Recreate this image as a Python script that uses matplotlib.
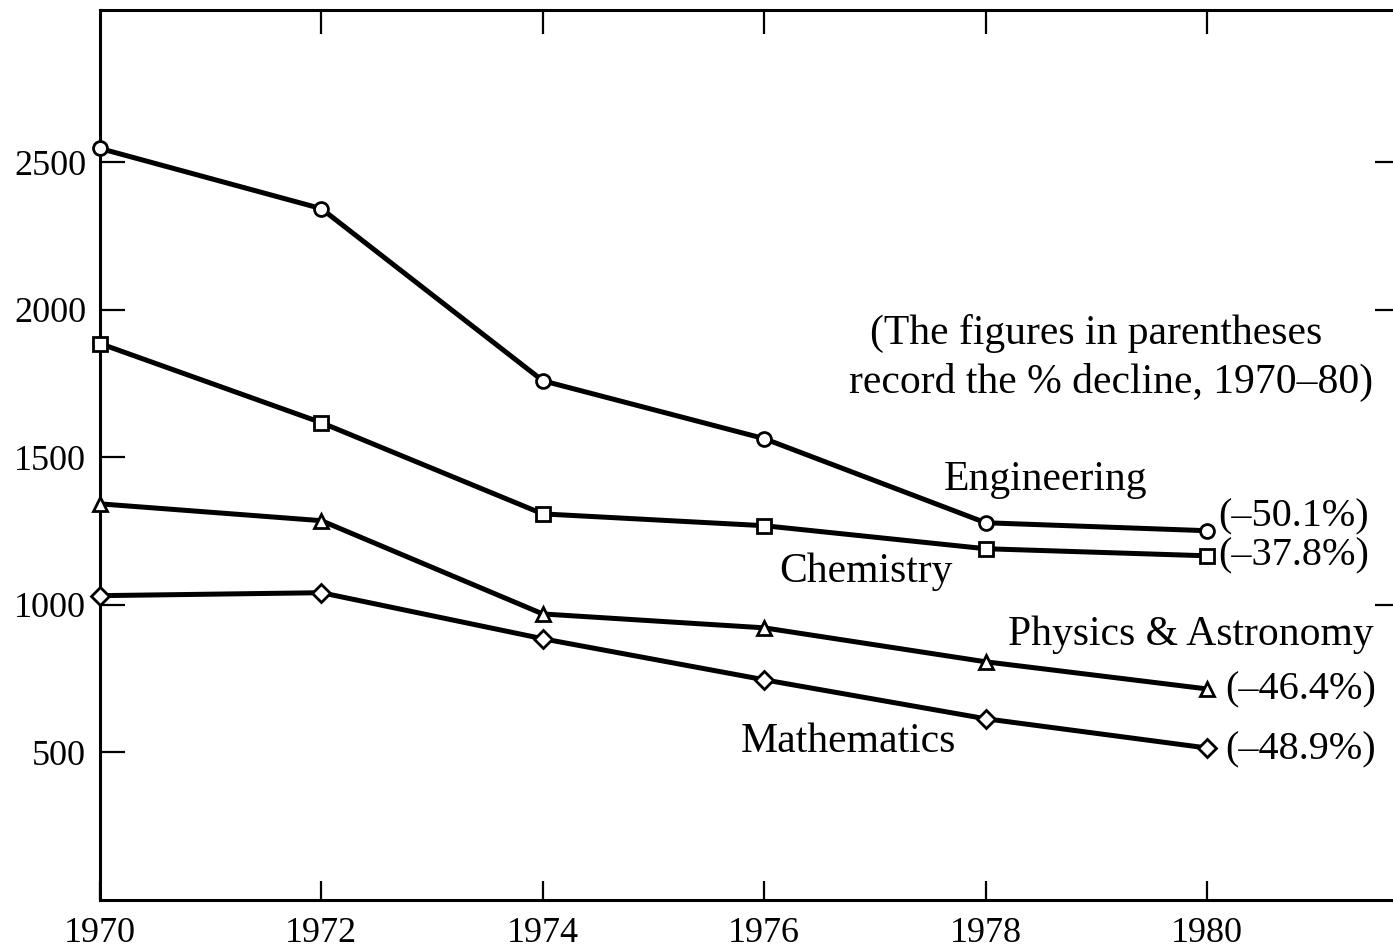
import matplotlib
matplotlib.use("Agg")
import matplotlib.pyplot as plt

years = [1970, 1972, 1974, 1976, 1978, 1980]
engineering = [2546, 2342, 1759, 1563, 1278, 1251]
chemistry = [1885, 1617, 1308, 1268, 1190, 1166]
physics = [1342, 1285, 969, 922, 807, 715]
mathematics = [1031, 1041, 885, 746, 614, 515]

names = ["Engineering", "Chemistry", "Physics & Astronomy", "Mathematics"]
declines = ["(\u201350.1%)", "(\u201337.8%)", "(\u201346.4%)", "(\u201348.9%)"]
note_lines = ["(The figures in parentheses", "record the % decline, 1970\u201380)"]
yticks = [500, 1000, 1500, 2000, 2500]
right_ticks = [1000, 2000, 2500]
xticks = [1970, 1972, 1974, 1976, 1978, 1980]

plt.rcParams['font.family'] = ['Liberation Serif', 'DejaVu Serif']

W, H = 1393, 952
fig = plt.figure(figsize=(W/100, H/100), dpi=100)
ax = fig.add_axes([100/W, 52/H, 1 - 100/W, 890/H])

series = [engineering, chemistry, physics, mathematics]
markers = ['o', 's', '^', 'D']
msizes = [10, 9.5, 10, 9]
for vals, m, ms in zip(series, markers, msizes):
    ax.plot(years, vals, color='black', lw=3.6, marker=m, ms=ms,
            mfc='white', mec='black', mew=2.0, zorder=3, clip_on=False)

ax.set_xlim(1970, 1981.68)
ax.set_ylim(0, 3015)
ax.set_xticks(xticks)
ax.set_yticks(yticks)
ax.tick_params(axis='both', direction='in', labelsize=26, width=1.6, pad=10)
ax.tick_params(axis='x', length=14, pad=12)
ax.tick_params(axis='y', length=18)
for s in ['left', 'bottom', 'top']:
    ax.spines[s].set_linewidth(2.2)
ax.spines['right'].set_visible(False)

top = ax.secondary_xaxis('top')
top.set_xticks(xticks[1:])
top.tick_params(direction='in', length=17, width=1.6, labeltop=False)
top.spines['top'].set_visible(False)

right = ax.secondary_yaxis('right')
right.set_yticks(right_ticks)
right.tick_params(direction='in', length=13, width=1.6, labelright=False)
right.spines['right'].set_visible(False)


def px(x, y):
    return 1970 + (x - 100) / 110.7, 3015 * (900 - y) / 890


fs = 30
fp = 29
ax.text(*px(1096, 333), note_lines[0], fontsize=fs, ha='center', va='center')
ax.text(*px(1111, 382), note_lines[1], fontsize=fs, ha='center', va='center')

ax.text(*px(1045, 480), names[0], fontsize=fs, ha='center', va='center')
ax.text(*px(866, 572), names[1], fontsize=fs, ha='center', va='center')
ax.text(*px(1191, 635), names[2], fontsize=fs, ha='center', va='center')
ax.text(*px(848, 742), names[3], fontsize=fs, ha='center', va='center')

ax.text(*px(1218, 517), declines[0], fontsize=fp, ha='left', va='center')
ax.text(*px(1218, 556), declines[1], fontsize=fp, ha='left', va='center')
ax.text(*px(1225, 690), declines[2], fontsize=fp, ha='left', va='center')
ax.text(*px(1225, 750), declines[3], fontsize=fp, ha='left', va='center')

fig.savefig("out.png", dpi=100)
